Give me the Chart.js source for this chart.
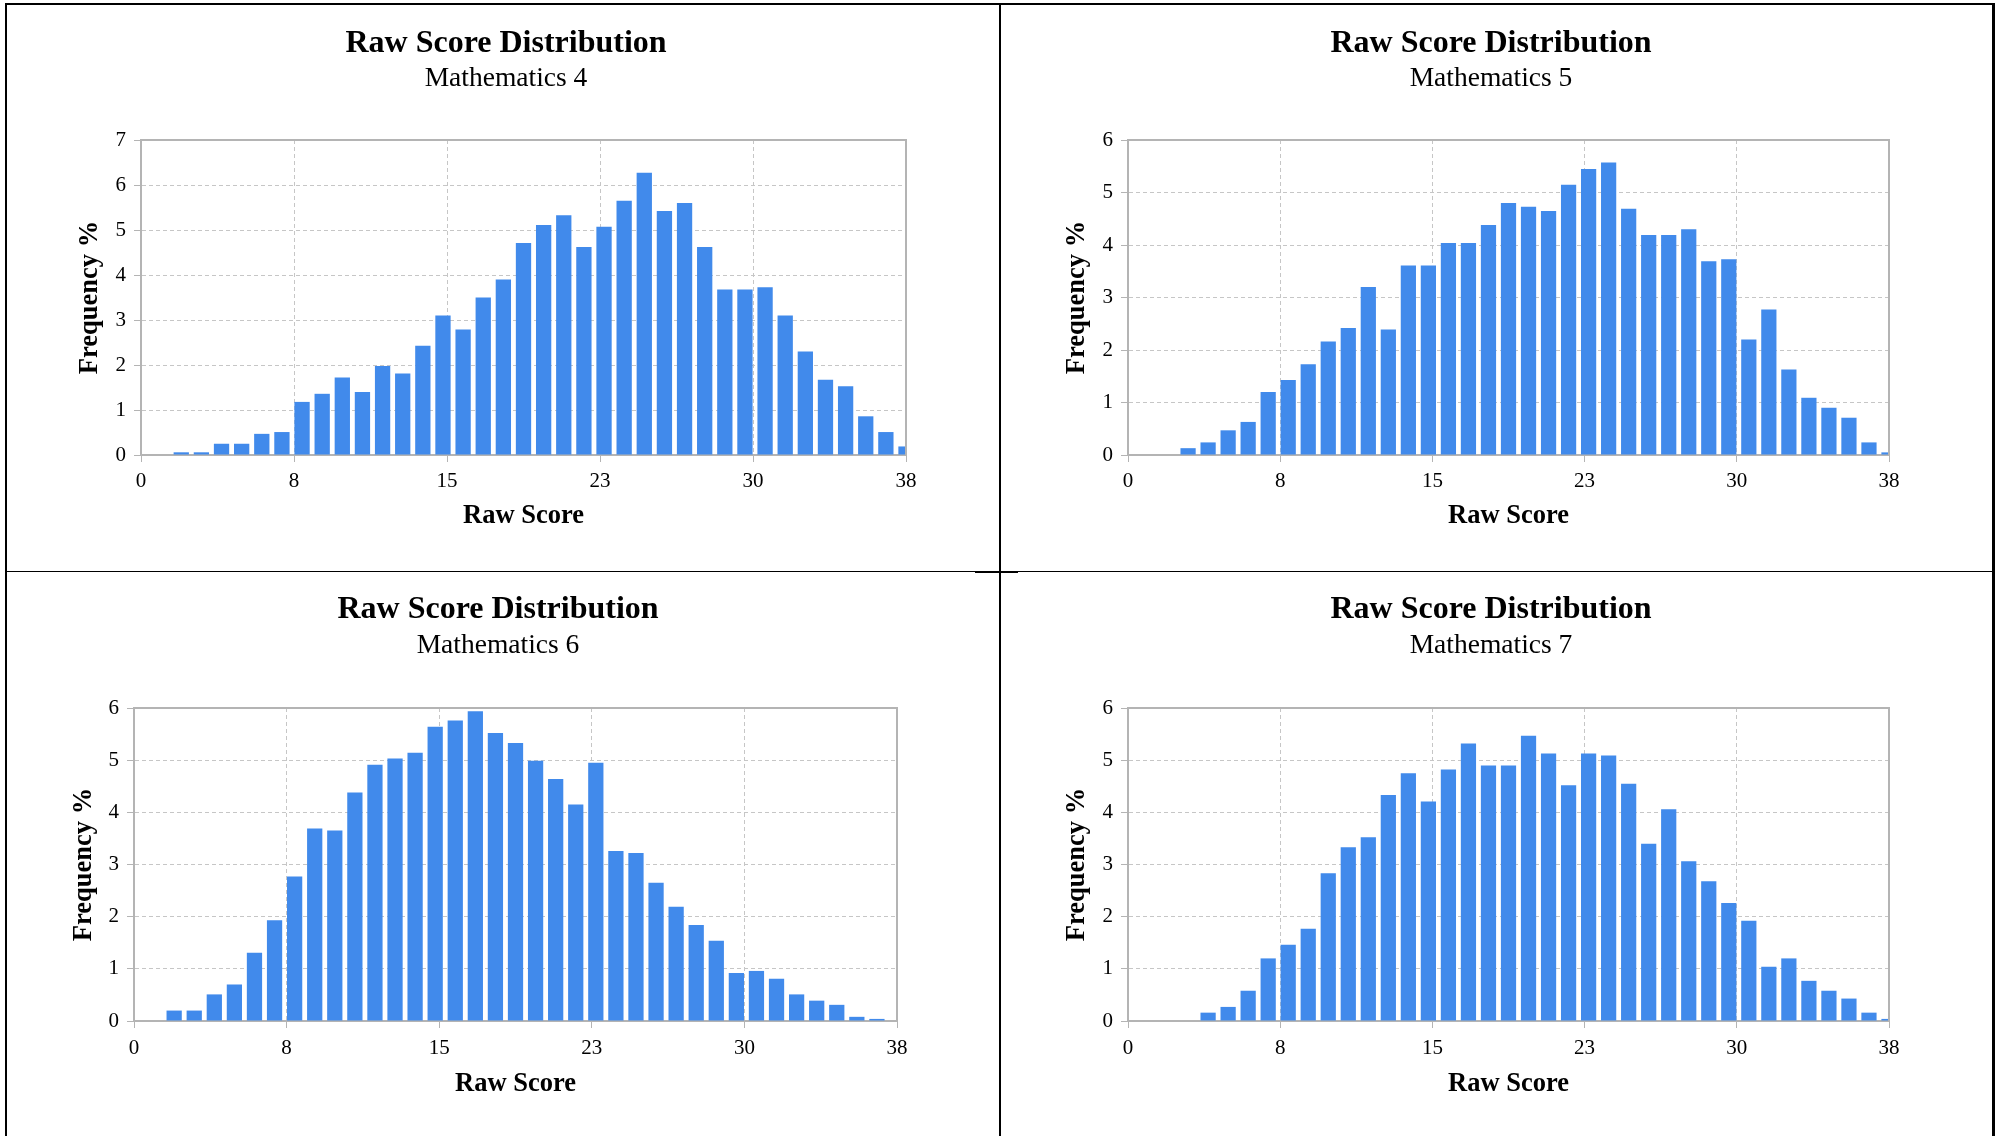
<!DOCTYPE html>
<html><head><meta charset="utf-8">
<script src="https://cdn.jsdelivr.net/npm/chart.js@4.4.1/dist/chart.umd.min.js"></script>
<style>
html,body{margin:0;padding:0;background:#fff;width:1997px;height:1136px;overflow:hidden;position:relative}
canvas{position:absolute;display:block}
.ln{position:absolute;background:#000;z-index:5}
</style></head><body>
<canvas id="c0"></canvas>
<canvas id="c1"></canvas>
<canvas id="c2"></canvas>
<canvas id="c3"></canvas>
<div class="ln" style="left:5px;top:3px;width:1990px;height:2px"></div>
<div class="ln" style="left:5px;top:3px;width:2px;height:1133px"></div>
<div class="ln" style="left:1992px;top:3px;width:3px;height:1133px"></div>
<div class="ln" style="left:999px;top:3px;width:2px;height:1133px"></div>
<div class="ln" style="left:5px;top:571px;width:1990px;height:1px"></div>
<div class="ln" style="left:975px;top:571px;width:43px;height:2px"></div>
<script>
// ---- data ----
const rawScores = [0,1,2,3,4,5,6,7,8,9,10,11,12,13,14,15,16,17,18,19,20,21,22,23,24,25,26,27,28,29,30,31,32,33,34,35,36,37,38];
const xTickLabels = ['0','8','15','23','30','38'];
const chartTitle = 'Raw Score Distribution';
const subtitles = ['Mathematics 4','Mathematics 5','Mathematics 6','Mathematics 7'];
const yAxisTitle = 'Frequency %';
const xAxisTitle = 'Raw Score';
const yMaxes = [7, 6, 6, 6];
const math4 = [0,0,0.06,0.06,0.25,0.25,0.47,0.51,1.18,1.36,1.72,1.40,1.98,1.81,2.43,3.10,2.79,3.50,3.90,4.71,5.11,5.33,4.62,5.07,5.65,6.27,5.42,5.60,4.62,3.68,3.68,3.73,3.10,2.30,1.67,1.53,0.86,0.51,0.19];
const math5 = [0,0,0,0.13,0.24,0.47,0.63,1.20,1.43,1.73,2.16,2.42,3.20,2.39,3.61,3.61,4.04,4.04,4.38,4.80,4.73,4.65,5.15,5.45,5.57,4.69,4.19,4.19,4.30,3.69,3.73,2.20,2.77,1.63,1.09,0.90,0.71,0.24,0.05];
const math6 = [0,0,0.20,0.20,0.51,0.70,1.31,1.93,2.77,3.69,3.65,4.38,4.91,5.03,5.14,5.64,5.76,5.94,5.52,5.33,4.99,4.64,4.15,4.95,3.26,3.22,2.65,2.19,1.84,1.54,0.92,0.96,0.81,0.51,0.39,0.31,0.08,0.04,0];
const math7 = [0,0,0,0,0.16,0.27,0.58,1.20,1.46,1.77,2.83,3.33,3.52,4.33,4.75,4.21,4.82,5.32,4.90,4.90,5.47,5.13,4.52,5.13,5.09,4.55,3.40,4.06,3.06,2.68,2.26,1.92,1.04,1.20,0.77,0.58,0.43,0.16,0.04];
const seriesList = [math4, math5, math6, math7];

// ---- layout (page pixels) ----
const panels = [
  {cx:8,    cy:6,   cw:996, ch:564, pl:141,  pr:906,  pt:140, pb:455,  yTitleX:90,   titleY:43.5,  subY:78.5,  tickY:481,  xTitleY:516},
  {cx:1002, cy:6,   cw:978, ch:564, pl:1128, pr:1889, pt:140, pb:455,  yTitleX:1077, titleY:43.5,  subY:78.5,  tickY:481,  xTitleY:516},
  {cx:8,    cy:573, cw:980, ch:563, pl:134,  pr:897,  pt:708, pb:1021, yTitleX:84,   titleY:609.5, subY:645.5, tickY:1048, xTitleY:1084},
  {cx:1002, cy:573, cw:978, ch:563, pl:1128, pr:1889, pt:708, pb:1021, yTitleX:1077, titleY:609.5, subY:645.5, tickY:1048, xTitleY:1084}
];

const FAM = '"Liberation Serif", "Times New Roman", serif';
const BAR = '#418AEB';
const GRID = '#C6C6C6';
const AXIS = '#B4B4B4';
const TXT = '#000';
const TITLE_SZ = 32, SUB_SZ = 27.5, AXT_SZ = 26.5, TICK_SZ = 21, TL = 7;

const framePlugin = {
  id: 'frame',
  afterDatasetsDraw(chart) {
    const {ctx, chartArea: a} = chart;
    ctx.save();
    ctx.strokeStyle = AXIS;
    ctx.lineWidth = 2;
    ctx.beginPath();
    ctx.moveTo(a.left, a.top);
    ctx.lineTo(a.right, a.top);
    ctx.lineTo(a.right, a.bottom);
    ctx.stroke();
    ctx.restore();
  }
};

panels.forEach((p, k) => {
  const cv = document.getElementById('c' + k);
  cv.width = p.cw; cv.height = p.ch;
  cv.style.left = p.cx + 'px'; cv.style.top = p.cy + 'px';
  cv.style.width = p.cw + 'px'; cv.style.height = p.ch + 'px';

  const tLH = TITLE_SZ * 1.2, sLH = SUB_SZ * 1.2, aLH = AXT_SZ * 1.2, kLH = TICK_SZ * 1.2;
  const titlePadTop = p.titleY - p.cy - tLH / 2;
  const subTop = titlePadTop + tLH;
  const subPadTop = p.subY - p.cy - subTop - sLH / 2;
  const subPadBottom = p.pt - p.subY - sLH / 2;
  const vals = seriesList[k];

  new Chart(cv, {
    type: 'bar',
    data: {
      datasets: [{
        data: rawScores.map((s, i) => ({x: s, y: vals[i]})),
        backgroundColor: BAR,
        borderWidth: 0,
        barPercentage: 0.76,
        categoryPercentage: 1.0,
        clip: 0
      }]
    },
    options: {
      responsive: false,
      animation: false,
      devicePixelRatio: 1,
      layout: {padding: 0},
      plugins: {
        legend: {display: false},
        tooltip: {enabled: false},
        title: {display: true, text: chartTitle, color: TXT,
          font: {family: FAM, size: TITLE_SZ, weight: 'bold'},
          padding: {top: titlePadTop, bottom: 0}},
        subtitle: {display: true, text: subtitles[k], color: TXT,
          font: {family: FAM, size: SUB_SZ, weight: 'normal'},
          padding: {top: subPadTop, bottom: subPadBottom}}
      },
      scales: {
        x: {
          type: 'linear', min: 0, max: 38, offset: false,
          afterBuildTicks: s => { s.ticks = xTickLabels.map((l, i) => ({value: s.max * i / (xTickLabels.length - 1)})); },
          afterFit: s => { s.height = p.ch - (p.pb - p.cy); },
          ticks: {autoSkip: false, maxRotation: 0, color: TXT,
            font: {family: FAM, size: TICK_SZ},
            padding: p.tickY - p.pb - TL - kLH / 2,
            callback: (v, i) => xTickLabels[i]},
          grid: {color: GRID, lineWidth: 1, tickColor: AXIS, tickLength: TL, offset: false},
          border: {color: AXIS, width: 2, dash: [4, 3]},
          title: {display: true, text: xAxisTitle, color: TXT,
            font: {family: FAM, size: AXT_SZ, weight: 'bold'},
            padding: {top: 0, bottom: p.ch - (p.xTitleY - p.cy) - aLH / 2}}
        },
        y: {
          min: 0, max: yMaxes[k],
          afterFit: s => { s.width = p.pl - p.cx; },
          ticks: {stepSize: 1, color: TXT, font: {family: FAM, size: TICK_SZ}, padding: 8},
          grid: {color: GRID, lineWidth: 1, tickColor: AXIS, tickLength: TL},
          border: {color: AXIS, width: 2, dash: [4, 3]},
          title: {display: true, text: yAxisTitle, color: TXT,
            font: {family: FAM, size: AXT_SZ, weight: 'bold'},
            padding: {top: p.yTitleX - p.cx - aLH / 2, bottom: 0}}
        },
        yPad: {
          position: 'right', display: true,
          afterFit: s => { s.width = (p.cx + p.cw) - p.pr; },
          ticks: {display: false},
          grid: {display: false, drawTicks: false},
          border: {display: false},
          title: {display: false}
        }
      }
    },
    plugins: [framePlugin]
  });
});
</script>
</body></html>
